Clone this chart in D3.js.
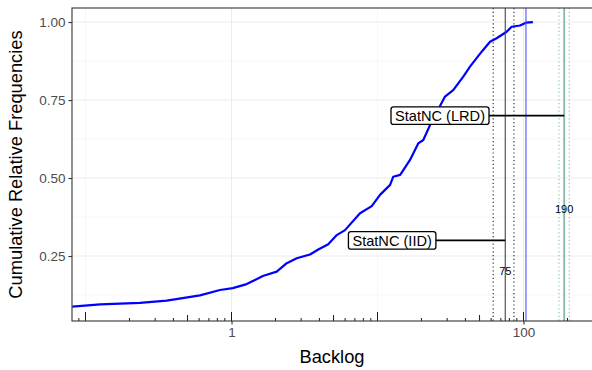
<!DOCTYPE html>
<meta charset="utf-8">
<style>
body { margin: 0; background: #fff; }
text { font-family: "Liberation Sans", Arial, sans-serif; }
</style>
<body>
<script src="https://cdn.jsdelivr.net/npm/d3@7"></script>
<script>

var width = 592, height = 370;
var margin = {top: 8, right: 0, bottom: 49, left: 72};

// ECDF of the backlog
var backlog = [0.0812, 0.126, 0.236, 0.36, 0.608, 0.834, 1.02, 1.27, 1.64, 2.04, 2.39, 2.8,
  3.45, 3.93, 4.6, 5.26, 5.99, 7.59, 9.13, 10.4, 12.2, 12.8, 14.3, 16.7, 19.0, 20.6, 22.9,
  29.0, 33.0, 38.7, 43.0, 51.7, 59.0, 65.5, 76.7, 83.0, 94.6, 104, 116];
var cumfreq = [0.0875, 0.095, 0.1, 0.107, 0.124, 0.141, 0.147, 0.16, 0.186, 0.2, 0.227, 0.243,
  0.255, 0.271, 0.288, 0.317, 0.333, 0.387, 0.41, 0.446, 0.478, 0.504, 0.51, 0.558, 0.611, 0.622, 0.67,
  0.761, 0.782, 0.825, 0.857, 0.905, 0.937, 0.948, 0.969, 0.985, 0.989, 0.998, 1.0];

var observedMax = 104;

// StatNC estimates with their lower / upper bounds
var statLabels = ["StatNC (IID)", "StatNC (LRD)"];
var statValues = [75, 190];
var statLower = [62, 175];
var statUpper = [86, 206];
var statLevel = [0.30, 0.70];
var labelPos = [12.6, 26.8];
var valueTextY = [0.20, 0.40];

var xBreaks = [1, 100];
var yBreaks = [0.25, 0.50, 0.75, 1.00];

var svg = d3.select("body").append("svg")
    .attr("width", width)
    .attr("height", height);

var x = d3.scaleLog()
    .domain([0.0808, 294.6])
    .range([margin.left, width - margin.right]);

var y = d3.scaleLinear()
    .domain([0.0417, 1.045])
    .range([height - margin.bottom, margin.top]);

var g = svg.append("g");

// minor grid
var xMinor = [0.1, 10];
var yMinor = [0.125, 0.375, 0.625, 0.875];
g.selectAll(".xminor").data(xMinor).enter().append("line")
    .attr("x1", d => x(d)).attr("x2", d => x(d))
    .attr("y1", margin.top).attr("y2", height - margin.bottom)
    .attr("stroke", "#f2f2f2").attr("stroke-width", 0.6);
g.selectAll(".yminor").data(yMinor).enter().append("line")
    .attr("x1", margin.left).attr("x2", width)
    .attr("y1", d => y(d)).attr("y2", d => y(d))
    .attr("stroke", "#f2f2f2").attr("stroke-width", 0.6);

// major grid
g.selectAll(".xmajor").data(xBreaks).enter().append("line")
    .attr("x1", d => x(d)).attr("x2", d => x(d))
    .attr("y1", margin.top).attr("y2", height - margin.bottom)
    .attr("stroke", "#ebebeb").attr("stroke-width", 1.1);
g.selectAll(".ymajor").data(yBreaks).enter().append("line")
    .attr("x1", margin.left).attr("x2", width)
    .attr("y1", d => y(d)).attr("y2", d => y(d))
    .attr("stroke", "#ebebeb").attr("stroke-width", 1.1);

// ecdf curve
var pts = backlog.map((d, i) => [d, cumfreq[i]]);
g.append("path")
    .datum(pts)
    .attr("fill", "none")
    .attr("stroke", "#0000ff")
    .attr("stroke-width", 2.2)
    .attr("stroke-linejoin", "round")
    .attr("d", d3.line().x(d => x(d[0])).y(d => y(d[1])));

// vertical reference lines
var colours = ["#444444", "#86bba6"];
var dotColours = ["#222222", "#86bba6"];
var yTop = margin.top, yBot = height - margin.bottom;

statValues.forEach(function(v, i) {
  [statLower[i], statUpper[i]].forEach(function(b) {
    g.append("line")
      .attr("x1", x(b)).attr("x2", x(b)).attr("y1", yTop).attr("y2", yBot)
      .attr("stroke", dotColours[i]).attr("stroke-width", 1.1)
      .attr("stroke-dasharray", "1.2,2.6");
  });
  g.append("line")
    .attr("x1", x(v)).attr("x2", x(v)).attr("y1", yTop).attr("y2", yBot)
    .attr("stroke", colours[i]).attr("stroke-width", i ? 1.8 : 1.1);
});

g.append("line")
    .attr("x1", x(observedMax)).attr("x2", x(observedMax)).attr("y1", yTop).attr("y2", yBot)
    .attr("stroke", "#5050ff").attr("stroke-width", 1.1);

// value annotations
statValues.forEach(function(v, i) {
  g.append("text")
    .attr("x", x(v)).attr("y", y(valueTextY[i]))
    .attr("dy", "0.35em")
    .attr("text-anchor", "middle")
    .attr("font-size", 11)
    .attr("fill", "#000")
    .text(v);
});

// segments + labels
statValues.forEach(function(v, i) {
  g.append("line")
    .attr("x1", x(labelPos[i])).attr("x2", x(v))
    .attr("y1", y(statLevel[i])).attr("y2", y(statLevel[i]))
    .attr("stroke", "#000").attr("stroke-width", 1.6);

  var lg = g.append("g");
  var t = lg.append("text")
    .attr("x", x(labelPos[i])).attr("y", y(statLevel[i]))
    .attr("dy", "0.36em")
    .attr("text-anchor", "middle")
    .attr("font-size", 14.6)
    .attr("fill", "#000")
    .text(statLabels[i]);
  var bb = t.node().getBBox();
  lg.insert("rect", "text")
    .attr("x", bb.x - 4).attr("y", y(statLevel[i]) - 8.8)
    .attr("width", bb.width + 8).attr("height", 17.6)
    .attr("rx", 2.5)
    .attr("fill", "#fff").attr("stroke", "#000").attr("stroke-width", 1.3);
});

// log ticks on the bottom
var logTicks = [];
for (var e = -2; e <= 2; e++) {
  for (var k = 1; k <= 9; k++) {
    var v = k * Math.pow(10, e);
    if (v >= x.domain()[0] && v <= x.domain()[1]) logTicks.push({v: v, len: k === 1 ? 9 : (k === 5 ? 6 : 3)});
  }
}
g.selectAll(".logtick").data(logTicks).enter().append("line")
    .attr("x1", d => x(d.v)).attr("x2", d => x(d.v))
    .attr("y1", yBot).attr("y2", d => yBot - d.len)
    .attr("stroke", "#000").attr("stroke-width", 0.9);

// panel border
g.append("rect")
    .attr("x", margin.left).attr("y", margin.top)
    .attr("width", width - margin.left + 2).attr("height", yBot - margin.top)
    .attr("fill", "none").attr("stroke", "#333").attr("stroke-width", 1.1);

// axes
var xAxis = svg.append("g")
    .attr("transform", "translate(0," + yBot + ")")
    .call(d3.axisBottom(x).tickValues(xBreaks).tickFormat(d3.format("d")).tickSize(3.6).tickPadding(3));
var yAxis = svg.append("g")
    .attr("transform", "translate(" + margin.left + ",0)")
    .call(d3.axisLeft(y).tickValues(yBreaks).tickFormat(d3.format(".2f")).tickSize(3.6).tickPadding(3));

[xAxis, yAxis].forEach(function(a) {
  a.select(".domain").remove();
  a.selectAll(".tick line").attr("stroke", "#333").attr("stroke-width", 1.1);
  a.selectAll(".tick text").attr("fill", "#4d4d4d").attr("font-size", 13.5)
    .attr("font-family", "Liberation Sans, Arial, sans-serif");
});

svg.append("text")
    .attr("x", (margin.left + width) / 2).attr("y", 357)
    .attr("dy", "0.35em")
    .attr("text-anchor", "middle")
    .attr("font-size", 18.3)
    .text("Backlog");

svg.append("text")
    .attr("transform", "translate(16," + ((margin.top + yBot) / 2) + ") rotate(-90)")
    .attr("dy", "0.35em")
    .attr("text-anchor", "middle")
    .attr("font-size", 18.3)
    .text("Cumulative Relative Frequencies");

</script>
</body>
